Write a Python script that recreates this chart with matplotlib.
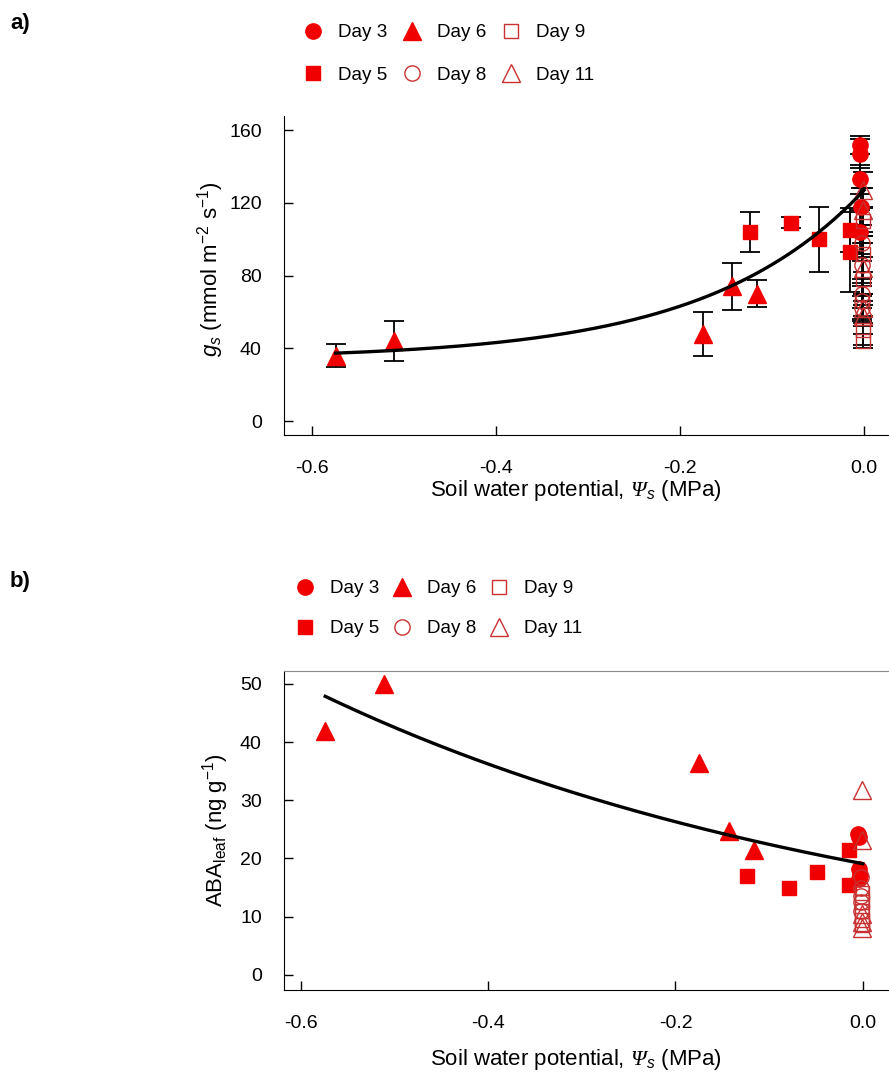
import numpy as np
import matplotlib
matplotlib.use("Agg")
import matplotlib.pyplot as plt

plt.rcParams['font.family'] = ['Liberation Sans', 'DejaVu Sans']
plt.rcParams['mathtext.fontset'] = 'custom'
plt.rcParams['mathtext.rm'] = 'Liberation Sans'
plt.rcParams['mathtext.it'] = 'Liberation Sans:italic'
plt.rcParams['mathtext.sf'] = 'Liberation Serif:italic'
plt.rcParams['axes.unicode_minus'] = False

# soil water potential (MPa) per day
day3_x = [-0.005, -0.004, -0.004, -0.003, -0.004]
day5_x = [-0.124, -0.079, -0.049, -0.015, -0.015]
day6_x = [-0.574, -0.511, -0.175, -0.143, -0.116]
day8_x = [-0.002, -0.002, -0.002, -0.002, -0.002]
day9_x = [-0.001, -0.001, -0.001, -0.001, -0.001]
day11_x = [-0.001, -0.001, -0.001, -0.001, -0.001]

# panel a: stomatal conductance gs and its error
day3_gs = [152, 147, 133, 118, 104]
day3_gs_err = [5, 8, 8, 10, 12]
day5_gs = [104, 109, 100, 105, 93]
day5_gs_err = [11, 3, 18, 12, 22]
day6_gs = [36, 44, 48, 74, 70]
day6_gs_err = [6.5, 11, 12, 13, 7.5]
day8_gs = [98, 86, 70, 66, 62]
day8_gs_err = [10, 12, 8, 10, 7]
day9_gs = [110, 92, 78, 50, 44]
day9_gs_err = [8, 10, 12, 8, 4]
day11_gs = [127, 116, 84, 62, 58]
day11_gs_err = [10, 12, 14, 8, 6]

# panel b: leaf ABA
day3_aba = [24.2, 23.6, 18.2, 17.2, 16.5]
day5_aba = [17.0, 15.0, 17.7, 21.5, 15.5]
day6_aba = [41.9, 50.0, 36.4, 24.7, 21.5]
day8_aba = [16.8, 15.0, 13.5, 12.5, 11.0]
day9_aba = [14.0, 12.5, 11.0, 9.5, 8.5]
day11_aba = [31.8, 23.2, 10.5, 9.0, 8.0]

# fitted curves
gs_fit = (34.0, 93.0, 5.8)      # y = a + b*exp(c*x)
aba_fit = (19.1, -1.6)          # y = b*exp(c*x)

labels = ['Day 3', 'Day 5', 'Day 6', 'Day 8', 'Day 9', 'Day 11']
RED = '#f00000'
DRED = '#c83232'
styles = [
    dict(marker='o', ms=11, mfc=RED, mec=RED, mew=1),
    dict(marker='s', ms=10.5, mfc=RED, mec=RED, mew=1),
    dict(marker='^', ms=12.5, mfc=RED, mec=RED, mew=1),
    dict(marker='o', ms=11, mfc='none', mec=DRED, mew=1),
    dict(marker='s', ms=10.5, mfc='none', mec=DRED, mew=1),
    dict(marker='^', ms=12.5, mfc='none', mec=DRED, mew=1),
]
xs = [day3_x, day5_x, day6_x, day8_x, day9_x, day11_x]
gs = [day3_gs, day5_gs, day6_gs, day8_gs, day9_gs, day11_gs]
gs_err = [day3_gs_err, day5_gs_err, day6_gs_err, day8_gs_err, day9_gs_err, day11_gs_err]
aba = [day3_aba, day5_aba, day6_aba, day8_aba, day9_aba, day11_aba]

fig = plt.figure(figsize=(8.89, 10.79), dpi=100)
ax_a = fig.add_axes([284/889, 1-435/1079, 605/889, 319/1079])
ax_b = fig.add_axes([284/889, 1-990/1079, 605/889, 319/1079])

handles = []
for x, y, e, st in zip(xs, gs, gs_err, styles):
    ax_a.errorbar(x, y, yerr=e, fmt='none', ecolor='black', elinewidth=1.3,
                  capsize=7, capthick=1.3, zorder=2)
    h, = ax_a.plot(x, y, linestyle='none', zorder=3, **st)
    handles.append(h)
for x, y, st in zip(xs, aba, styles):
    ax_b.plot(x, y, linestyle='none', zorder=3, **st)

xfit = np.linspace(min(day6_x), 0, 200)
ax_a.plot(xfit, gs_fit[0] + gs_fit[1]*np.exp(gs_fit[2]*xfit), color='black', lw=2.4, zorder=4)
ax_b.plot(xfit, aba_fit[0]*np.exp(aba_fit[1]*xfit), color='black', lw=2.4, zorder=4)

for ax in (ax_a, ax_b):
    ax.spines['right'].set_visible(False)
    ax.set_xticks([-0.6, -0.4, -0.2, 0.0])
    ax.set_xticklabels(['-0.6', '-0.4', '-0.2', '0.0'])
    ax.tick_params(direction='in', length=6.5, width=1, labelsize=14, pad=16)
    ax.tick_params(axis='x', pad=18)
    ax.set_xlabel(r'Soil water potential, $\mathsf{\Psi}_{s}$ (MPa)', fontsize=16)
ax_a.spines['top'].set_visible(False)
ax_b.spines['top'].set_color('#8a8a8a')

ax_a.set_xlim(-0.630, 0.027)
ax_a.set_ylim(-7.7, 167.8)
ax_a.set_yticks([0, 40, 80, 120, 160])
ax_a.set_ylabel(r'$g_s$ (mmol m$^{-2}$ s$^{-1}$)', fontsize=16)

ax_b.set_xlim(-0.618, 0.028)
ax_b.set_ylim(-2.6, 52.2)
ax_b.set_yticks([0, 10, 20, 30, 40, 50])
ax_b.set_ylabel(r'ABA$_{\mathrm{leaf}}$ (ng g$^{-1}$)', fontsize=16)

ax_a.xaxis.set_label_coords((576-284)/605, (435-478)/319)
ax_b.xaxis.set_label_coords((576-284)/605, (990-1047)/319)
ax_a.yaxis.set_label_coords((226-284)/605, 0.52)
ax_b.yaxis.set_label_coords((231-284)/605, 0.5)

leg_a = dict(loc='upper left', ncol=3, frameon=False, handlelength=1.0,
             handletextpad=0.82, columnspacing=0.82, labelspacing=1.34,
             borderpad=0, borderaxespad=0, fontsize=13.6)
leg_b = dict(leg_a, columnspacing=0.71, labelspacing=1.2)
fig.legend(handles, labels, bbox_to_anchor=(303.5/889, 1-24/1079), **leg_a)
fig.legend(handles, labels, bbox_to_anchor=(295.5/889, 1-580/1079), **leg_b)

fig.text(10/889, 1-23/1079, 'a)', fontsize=16, fontweight='bold', va='center',
         family=['Liberation Sans Narrow', 'Liberation Sans'])
fig.text(10/889, 1-581/1079, 'b)', fontsize=16, fontweight='bold', va='center',
         family=['Liberation Sans Narrow', 'Liberation Sans'])

fig.savefig('out.png', dpi=100)
